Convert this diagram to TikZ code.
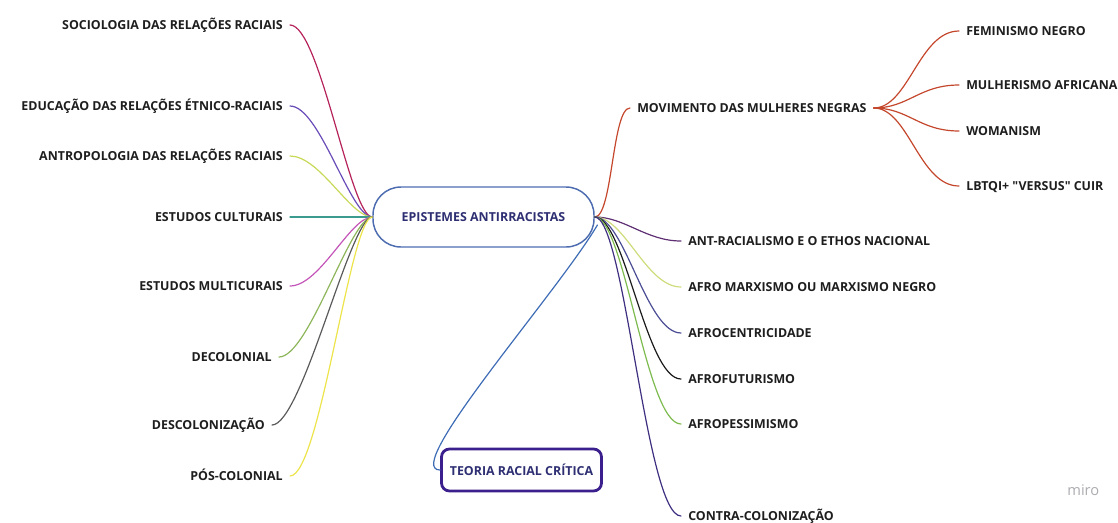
\documentclass[tikz,border=0pt]{standalone}
\usepackage{fontspec}
\setmainfont{Open Sans}[Ligatures=TeXOff]
\begin{document}
\begin{tikzpicture}[x=0.75pt,y=-0.75pt,
  lbl/.style={font=\bfseries\fontsize{9.3pt}{10pt}\selectfont, text=txt,
    inner ysep=0pt, inner xsep=5.25pt, text height=6.7pt, text depth=0pt},
  lft/.style={lbl, anchor=east},
  rgt/.style={lbl, anchor=west},
  branch/.style={line width=0.9pt, line cap=round},
  hubbox/.style={draw=hubblue, line width=1.1pt, rounded corners=21pt,
    minimum width=165.75pt, minimum height=45pt,
    font=\bfseries\fontsize{9.3pt}{10pt}\selectfont, text=navy, inner sep=0pt},
  leafbox/.style={draw=boxviolet, line width=2.1pt, rounded corners=6pt,
    minimum width=120pt, minimum height=31.5pt,
    font=\bfseries\fontsize{9.3pt}{10pt}\selectfont, text=navy, inner sep=0pt}]

\definecolor{txt}{HTML}{1E1E1E}
\definecolor{navy}{HTML}{2E2F72}
\definecolor{hubblue}{HTML}{4D6DB0}
\definecolor{boxviolet}{HTML}{3B1F8C}
\definecolor{cSoc}{HTML}{B5235A}
\definecolor{cEdu}{HTML}{6A4CB8}
\definecolor{cAntro}{HTML}{C9D957}
\definecolor{cCult}{HTML}{3A9B8E}
\definecolor{cMulti}{HTML}{C455B8}
\definecolor{cDecol}{HTML}{8DB65A}
\definecolor{cDescol}{HTML}{5A5A5A}
\definecolor{cPos}{HTML}{ECE44A}
\definecolor{cMov}{HTML}{C4472C}
\definecolor{cAntRac}{HTML}{5E2F73}
\definecolor{cMarx}{HTML}{CFDC7C}
\definecolor{cCent}{HTML}{4B4D94}
\definecolor{cFut}{HTML}{1A1A1A}
\definecolor{cPess}{HTML}{7CBB4E}
\definecolor{cContra}{HTML}{3F2F80}
\definecolor{cTrc}{HTML}{3D6CB5}
\definecolor{miro}{HTML}{ABABB0}

\useasboundingbox (0,0) rectangle (1118,522);

% central topic
\node[hubbox] (main) at (483.5,217) {EPISTEMES ANTIRRACISTAS};
\coordinate (hubL) at (main.west);
\coordinate (hubR) at (main.east);

% left-hand topics
\node[lft] (soc)    at (290,25)  {SOCIOLOGIA DAS RELAÇÕES RACIAIS};
\node[lft] (edu)    at (290,106) {EDUCAÇÃO DAS RELAÇÕES ÉTNICO-RACIAIS\hspace{9pt}};
\node[lft] (antro)  at (290,156) {ANTROPOLOGIA DAS RELAÇÕES RACIAIS};
\node[lft] (cult)   at (290,217) {ESTUDOS CULTURAIS};
\node[lft] (multi)  at (290,286) {ESTUDOS MULTICURAIS};
\node[lft] (decol)  at (279,357) {DECOLONIAL};
\node[lft] (descol) at (272,425) {DESCOLONIZAÇÃO};
\node[lft] (pos)    at (290,476) {PÓS-COLONIAL};

\draw[branch,cSoc]    (soc.east)    .. controls +(30,0) and +(-22,0) .. (hubL);
\draw[branch,cEdu]    (edu.east)    .. controls +(30,0) and +(-22,0) .. (hubL);
\draw[branch,cAntro]  (antro.east)  .. controls +(30,0) and +(-22,0) .. (hubL);
\draw[branch,cCult]   (cult.east)   -- (hubL);
\draw[branch,cMulti]  (multi.east)  .. controls +(30,0) and +(-22,0) .. (hubL);
\draw[branch,cDecol]  (decol.east)  .. controls +(30,0) and +(-22,0) .. (hubL);
\draw[branch,cDescol] (descol.east) .. controls +(30,0) and +(-22,0) .. (hubL);
\draw[branch,cPos]    (pos.east)    .. controls +(30,0) and +(-22,0) .. (hubL);

% right-hand topics
\node[rgt] (mov)    at (630,108) {MOVIMENTO DAS MULHERES NEGRAS};
\node[rgt] (antrac) at (681,241) {ANT-RACIALISMO E O ETHOS NACIONAL};
\node[rgt] (marx)   at (681,287) {AFRO MARXISMO OU MARXISMO NEGRO};
\node[rgt] (cent)   at (681,333) {AFROCENTRICIDADE};
\node[rgt] (fut)    at (681,379) {AFROFUTURISMO};
\node[rgt] (pess)   at (681,424) {AFROPESSIMISMO};
\node[rgt] (contra) at (681,516) {CONTRA-COLONIZAÇÃO};

\draw[branch,cMov]    (hubR) .. controls +(18,0) and +(-18,0) .. (mov.west);
\draw[branch,cAntRac] (hubR) .. controls +(30,0) and +(-35,0) .. (antrac.west);
\draw[branch,cMarx]   (hubR) .. controls +(30,0) and +(-35,0) .. (marx.west);
\draw[branch,cCent]   (hubR) .. controls +(30,0) and +(-35,0) .. (cent.west);
\draw[branch,cFut]    (hubR) .. controls +(30,0) and +(-35,0) .. (fut.west);
\draw[branch,cPess]   (hubR) .. controls +(30,0) and +(-35,0) .. (pess.west);
\draw[branch,cContra] (hubR) .. controls +(30,0) and +(-35,0) .. (contra.west);

% sub-topics of the women's movement
\node[rgt] (fem)  at (959,31)  {FEMINISMO NEGRO};
\node[rgt] (mulh) at (959,85)  {MULHERISMO AFRICANA};
\node[rgt] (wom)  at (959,131) {WOMANISM};
\node[rgt] (lgbt) at (959,186) {LBTQI+ "VERSUS" CUIR};

\draw[branch,cMov] (mov.east) .. controls +(35,0) and +(-40,0) .. (fem.west);
\draw[branch,cMov] (mov.east) .. controls +(35,0) and +(-40,0) .. (mulh.west);
\draw[branch,cMov] (mov.east) .. controls +(35,0) and +(-40,0) .. (wom.west);
\draw[branch,cMov] (mov.east) .. controls +(35,0) and +(-40,0) .. (lgbt.west);

% boxed topic below the centre
\node[leafbox] (trc) at (521.5,470) {TEORIA RACIAL CRÍTICA};
\draw[branch,cTrc] ([xshift=2,yshift=-6]hubR) .. controls +(-40,68) and +(-40,0) .. (trc.west);

% watermark
\node[text=miro, font=\fontsize{11pt}{12pt}\selectfont, anchor=east] (mark) at (1104,490) {miro};
\end{tikzpicture}
\end{document}
